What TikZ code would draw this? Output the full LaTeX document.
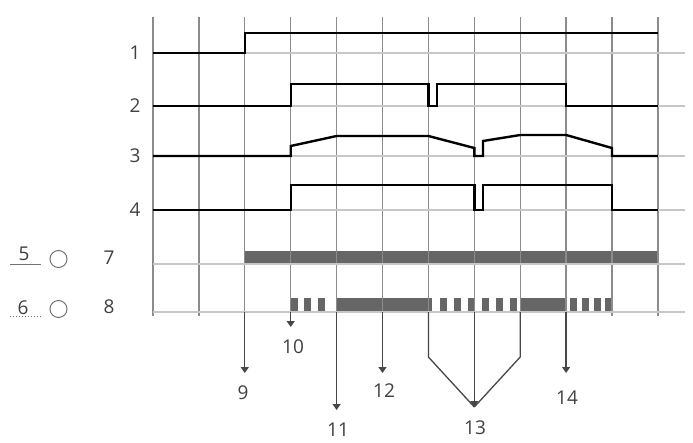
\documentclass[tikz,border=0pt]{standalone}
\usepackage{fontspec}
\setmainfont{Open Sans}
\usetikzlibrary{arrows.meta}
\begin{document}
\begin{tikzpicture}[x=1pt,y=-1pt,
  gridv/.style={draw=black!45, line width=1.3pt},
  gridh/.style={draw=black!22, line width=1.2pt},
  sig/.style={draw=black, line width=2.4pt, line join=miter},
  barfill/.style={fill=black!60, draw=none},
  lab/.style={font=\fontsize{19}{20}\selectfont, text=black!75, inner sep=0pt},
  pointer/.style={draw=black!72, line width=1.3pt, -{Triangle[width=8pt,length=6pt]}},
  plainline/.style={draw=black!72, line width=1.3pt},
  ring/.style={circle, draw=black!55, line width=1pt, minimum size=17pt, inner sep=0pt},
  ]
\useasboundingbox (0,0) rectangle (693,442);
% bars
\fill[barfill] (244.8,251) rectangle (657.9,264);
\fill[barfill] (336.6,298) rectangle (432,311);
\fill[barfill] (520.2,298) rectangle (566.1,311);
\foreach \x in {290.7,304,318,440,454,468,482,496,510,570,582,594,605}
  \fill[barfill] (\x,298) rectangle ++(7,13);
% grid
\foreach \i in {0,...,11}
  \draw[gridv] ({153+45.9*\i},17) -- ({153+45.9*\i},316);
\foreach \y in {53,106,156,210,264,312}
  \draw[gridh] (153,\y) -- (685,\y);
% signals
\draw[sig] (153,53) -- (244.8,53) -- (244.8,33) -- (657.9,33);
\draw[sig] (153,106) -- (290.7,106) -- (290.7,84) -- (428.4,84) -- (428.4,106) -- (437,106) -- (437,84) -- (566.1,84) -- (566.1,106) -- (657.9,106);
\draw[sig] (153,156) -- (290.7,156) -- (290.7,146) -- (336.6,136) -- (428.4,136) -- (474.3,148) -- (474.3,156) -- (483,156) -- (483,141) -- (520.2,135) -- (566.1,135) -- (612,148) -- (612,156) -- (657.9,156);
\draw[sig] (153,210) -- (290.7,210) -- (290.7,185) -- (474.3,185) -- (474.3,210) -- (483,210) -- (483,185) -- (612,185) -- (612,210) -- (657.9,210);
% row labels
\node[lab] (r1) at (135,53) {1};
\node[lab] (r2) at (135,106) {2};
\node[lab] (r3) at (135,156) {3};
\node[lab] (r4) at (135,210) {4};
% legend
\node[lab] (l5) at (24,254) {5};
\draw[draw=black!55, line width=0.8pt] (10,264) -- (41,264);
\node[ring] (o1) at (58.5,259) {};
\node[lab] (l7) at (109,258) {7};
\node[lab] (l6) at (23,308) {6};
\draw[draw=black!55, line width=1pt, dotted] (10,316) -- (43,316);
\node[ring] (o2) at (58.5,309) {};
\node[lab] (l8) at (109,307) {8};
% pointer start / end coordinates
\coordinate (b9) at (244.8,312);  \coordinate (t9) at (244.8,373);
\coordinate (b10) at (290.7,312); \coordinate (t10) at (290.7,327);
\coordinate (b11) at (336.6,312); \coordinate (t11) at (336.6,410);
\coordinate (b12) at (382.5,312); \coordinate (t12) at (382.5,373);
\coordinate (b13) at (474.3,312); \coordinate (t13) at (474.3,407);
\coordinate (b13a) at (428.4,312); \coordinate (k13a) at (428.4,357);
\coordinate (b13b) at (520.2,312); \coordinate (k13b) at (520.2,357);
\coordinate (b14) at (566.1,312); \coordinate (t14) at (566.1,373);
\node[lab] (n9) at (243,393) {9};
\node[lab] (n10) at (293,347) {10};
\node[lab] (n11) at (338,430) {11};
\node[lab] (n12) at (384,391) {12};
\node[lab] (n13) at (475,428) {13};
\node[lab] (n14) at (567,398) {14};
\draw[pointer] (b9) -- (t9);
\draw[pointer] (b10) -- (t10);
\draw[pointer] (b11) -- (t11);
\draw[pointer] (b12) -- (t12);
\draw[plainline] (b13a) -- (k13a) -- (t13);
\draw[plainline] (b13b) -- (k13b) -- (t13);
\draw[pointer] (b13) -- (t13);
\draw[pointer] (b14) -- (t14);
\end{tikzpicture}
\end{document}
